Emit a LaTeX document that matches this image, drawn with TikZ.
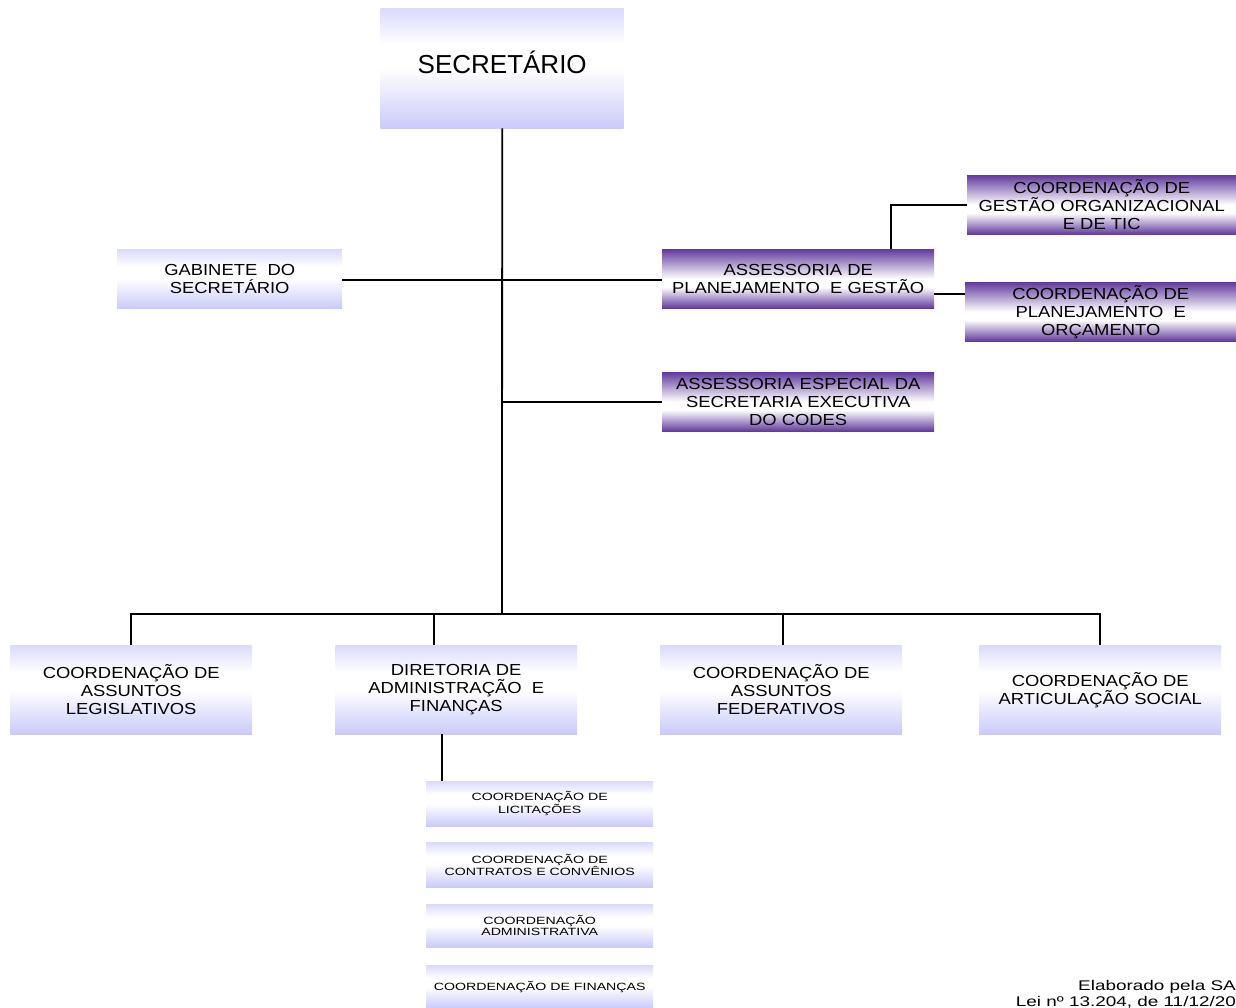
\documentclass[tikz,border=0pt]{standalone}
\usepackage{fontspec}
\setmainfont{Liberation Sans}
\newfontfamily\wfont[FakeStretch=1.15]{Liberation Sans}
\newfontfamily\sfont[FakeStretch=1.35]{Liberation Sans}
\definecolor{lav}{RGB}{202,202,250}
\definecolor{purp}{RGB}{98,58,158}
\pgfdeclareverticalshading{lavshade}{100bp}{color(0bp)=(lav); color(25bp)=(lav); color(50bp)=(white); color(60bp)=(white); color(75bp)=(lav!70); color(100bp)=(lav!70)}
\pgfdeclareverticalshading{purpshade}{100bp}{color(0bp)=(purp); color(25bp)=(purp); color(43bp)=(white); color(50bp)=(white); color(75bp)=(purp); color(100bp)=(purp)}
\tikzset{
  lavbox/.style={shading=lavshade, inner sep=0pt, align=center, anchor=north west},
  purpbox/.style={shading=purpshade, inner sep=0pt, align=center, anchor=north west},
  mtext/.style={font=\wfont\fontsize{16}{18}\selectfont},
  stext/.style={font=\sfont\fontsize{10.5}{11}\selectfont},
  conn/.style={line width=1.8pt, black},
}
\begin{document}
\begin{tikzpicture}[x=1pt,y=-1pt]
\useasboundingbox (0,0) rectangle (1236,1008);
\clip (0,0) rectangle (1236,1008);
% top
\node[lavbox, minimum width=243pt, minimum height=120pt, font=\fontsize{26}{30}\selectfont] (sec) at (380.5,8) {\raisebox{12pt}{SECRETÁRIO}};
\node[lavbox, mtext, minimum width=225pt, minimum height=59pt] (gab) at (117,249) {GABINETE\ \ DO\\SECRETÁRIO};
\node[purpbox, mtext, minimum width=272pt, minimum height=59pt] (apg) at (662,249) {ASSESSORIA DE\\PLANEJAMENTO\ \ E GESTÃO};
\node[purpbox, mtext, minimum width=269pt, minimum height=59pt] (cgo) at (967,175) {COORDENAÇÃO DE\\GESTÃO ORGANIZACIONAL\\E DE TIC};
\node[purpbox, mtext, minimum width=271pt, minimum height=59pt] (cpo) at (965,282) {COORDENAÇÃO DE\\PLANEJAMENTO\ \ E\\ORÇAMENTO};
\node[purpbox, mtext, minimum width=272pt, minimum height=59pt] (aes) at (662,372) {ASSESSORIA ESPECIAL DA\\SECRETARIA EXECUTIVA\\DO CODES};
% bottom row
\node[lavbox, mtext, minimum width=242pt, minimum height=89pt] (cal) at (10,645) {COORDENAÇÃO DE\\ASSUNTOS\\LEGISLATIVOS};
\node[lavbox, mtext, minimum width=242pt, minimum height=89pt] (daf) at (335,645) {DIRETORIA DE\\ADMINISTRAÇÃO\ \ E\\FINANÇAS};
\node[lavbox, mtext, minimum width=242pt, minimum height=89pt] (caf) at (660,645) {COORDENAÇÃO DE\\ASSUNTOS\\FEDERATIVOS};
\node[lavbox, mtext, minimum width=242pt, minimum height=89pt] (cas) at (979,645) {COORDENAÇÃO DE\\ARTICULAÇÃO SOCIAL};
% sub boxes
\node[lavbox, stext, minimum width=227pt, minimum height=45pt] (lic) at (426,781) {COORDENAÇÃO DE\\LICITAÇÕES};
\node[lavbox, stext, minimum width=227pt, minimum height=45pt] (con) at (426,842) {COORDENAÇÃO DE\\CONTRATOS E CONVÊNIOS};
\node[lavbox, stext, minimum width=227pt, minimum height=43pt] (adm) at (426,904) {COORDENAÇÃO\\ADMINISTRATIVA};
\node[lavbox, stext, minimum width=227pt, minimum height=43pt] (fin) at (426,965) {COORDENAÇÃO DE FINANÇAS};
% footer
\node[anchor=base east, font=\sfont\fontsize{14}{14}\selectfont, inner sep=0pt] (ela) at (1236,990) {Elaborado pela SA};
\node[anchor=base east, font=\sfont\fontsize{14}{14}\selectfont, inner sep=0pt] (lei) at (1236,1006) {Lei nº 13.204, de 11/12/20};
% connectors
\coordinate (j1) at (502,280);
\coordinate (j2) at (502,402);
\coordinate (j3) at (502,614);
\draw[conn] (sec.south) -- (j3);
\draw[conn] (gab.east |- j1) -- (apg.west |- j1);
\draw[conn] (j2) -- (aes.west |- j2);
\draw[conn] (cal.north) |- (j3) -| (cas.north);
\draw[conn] (j3) -| ([xshift=-22.5pt]daf.north);
\draw[conn] (j3) -| ([xshift=2pt]caf.north);
\draw[conn] ([xshift=-14pt]daf.south) -- ([xshift=-97.5pt]lic.north);
\draw[conn] ([xshift=93pt]apg.north) |- (cgo.west);
\draw[conn] ([yshift=-15pt]apg.east) -- ([yshift=-15pt]apg.east -| cpo.west);
\end{tikzpicture}
\end{document}
